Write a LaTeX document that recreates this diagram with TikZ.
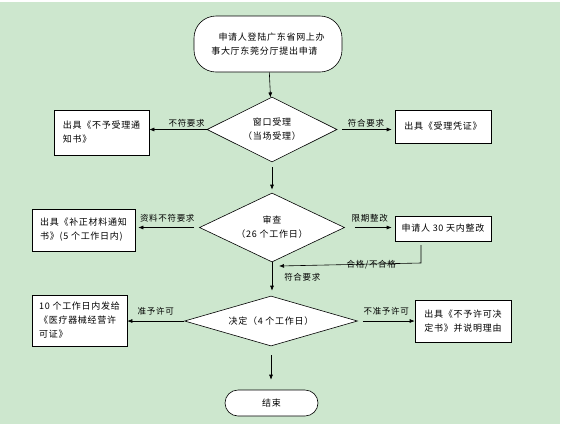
\documentclass[tikz,border=0pt]{standalone}
\usepackage{fontspec}
\setmainfont{Noto Sans CJK SC}[LetterSpace=8]
\usetikzlibrary{positioning}
\usetikzlibrary{shapes.geometric}
\usetikzlibrary{arrows.meta}
\definecolor{bggreen}{RGB}{205,231,206}

\begin{document}
\begin{tikzpicture}[x=1pt,y=-1pt,
  font=\fontsize{9}{14}\selectfont,
  box/.style={draw,fill=white,rectangle,align=left,inner sep=2pt,line width=0.6pt},
  decision/.style={draw,fill=white,diamond,align=center,inner sep=0pt,line width=0.6pt},
  terminal/.style={draw,fill=white,rectangle,rounded corners=22pt,align=left,line width=0.6pt},
  arr/.style={-{Latex[length=5pt,width=4pt]},line width=0.6pt},
  lbl/.style={font=\fontsize{8.5}{10}\selectfont,inner sep=2pt}]
			\useasboundingbox (0,0) rectangle (562,424);
			\fill[white] (0,0) rectangle (562,424);
			\fill[bggreen] (0,2) rectangle (560,424);
			% main column
			\node at (268,44) (S) [terminal,minimum width=148pt,minimum height=56pt] {\hspace*{0.8em}申请人登陆广东省网上办\\事大厅东莞分厅提出申请};
			\node at (272,129.5) (D1) [decision,aspect=2,minimum width=130pt,minimum height=65pt] {窗口受理\\（当场受理）};
			\node at (272,227.5) (D2) [decision,aspect=2,minimum width=145pt,minimum height=69pt] {审查\\（26 个工作日）};
			\node at (271,321) (D3) [decision,aspect=3.5,minimum width=173pt,minimum height=50pt] {决定（4 个工作日）};
			\node at (271.5,403) (E) [terminal,rounded corners=13pt,minimum width=93pt,minimum height=26pt] {结束};
			% side boxes
			\node at (101.5,132.5) (B1L) [box,minimum width=95pt,minimum height=45pt] {出具《不予受理通\\知书》};
			\node at (443,126.5) (B1R) [box,minimum width=96pt,minimum height=33pt] {出具《受理凭证》};
			\node at (83.5,230) (B2L) [box,minimum width=103pt,minimum height=42pt] {出具《补正材料通知\\书》(5 个工作日内)};
			\node at (443,228.5) (B2R) [box,minimum width=96pt,minimum height=25pt] {申请人 30 天内整改};
			\node at (79.5,320.5) (B3L) [box,minimum width=95pt,minimum height=51pt] {10 个工作日内发给\\《医疗器械经营许\\可证》};
			\node at (463,321) (B3R) [box,minimum width=96pt,minimum height=42pt] {出具《不予许可决\\定书》并说明理由};
			% connectors
			\draw[arr] (S) -- (D1);
			\draw[arr] (D1.west) -- node[lbl,above,pos=0.35] {不符要求} (D1.west -| B1L.east);
			\draw[arr,shorten <=5pt,shorten >=3pt] (D1.east) -- node[lbl,above] {符合要求} (D1.east -| B1R.west);
			\draw[arr,shorten <=5pt,shorten >=3pt] (D1.south) -- (D2.north);
			\draw[arr,shorten <=5pt,shorten >=3pt] (D2.west) -- node[lbl,above=3pt] {资料不符要求} (D2.west -| B2L.east);
			\draw[arr,shorten <=10pt,shorten >=3pt] (D2.east) -- node[lbl,above=3pt] {限期整改} (D2.east -| B2R.west);
			\coordinate (F1) at (421,245); \coordinate (F2) at (421,263); \coordinate (F3) at (279,266);
			\draw[arr] (F1) -- (F2) -- node[lbl,pos=0.35,yshift=-0.5pt] {合格/不合格} (F3);
			\draw[arr,shorten >=5pt] (D2.south) -- node[lbl,right=10pt,pos=0.44] {符合要求} (D2.south |- D3.north);
			\draw[arr] (D3.west) -- node[lbl,above=4pt] {准予许可} (D3.west -| B3L.east);
			\draw[arr,shorten <=5pt] (D3.east) -- node[lbl,above=4pt] {不准予许可} (D3.east -| B3R.west);
			\draw[arr,shorten <=9pt,shorten >=10pt] (D3.south) -- (D3.south |- E.north);
\end{tikzpicture}
\end{document}
